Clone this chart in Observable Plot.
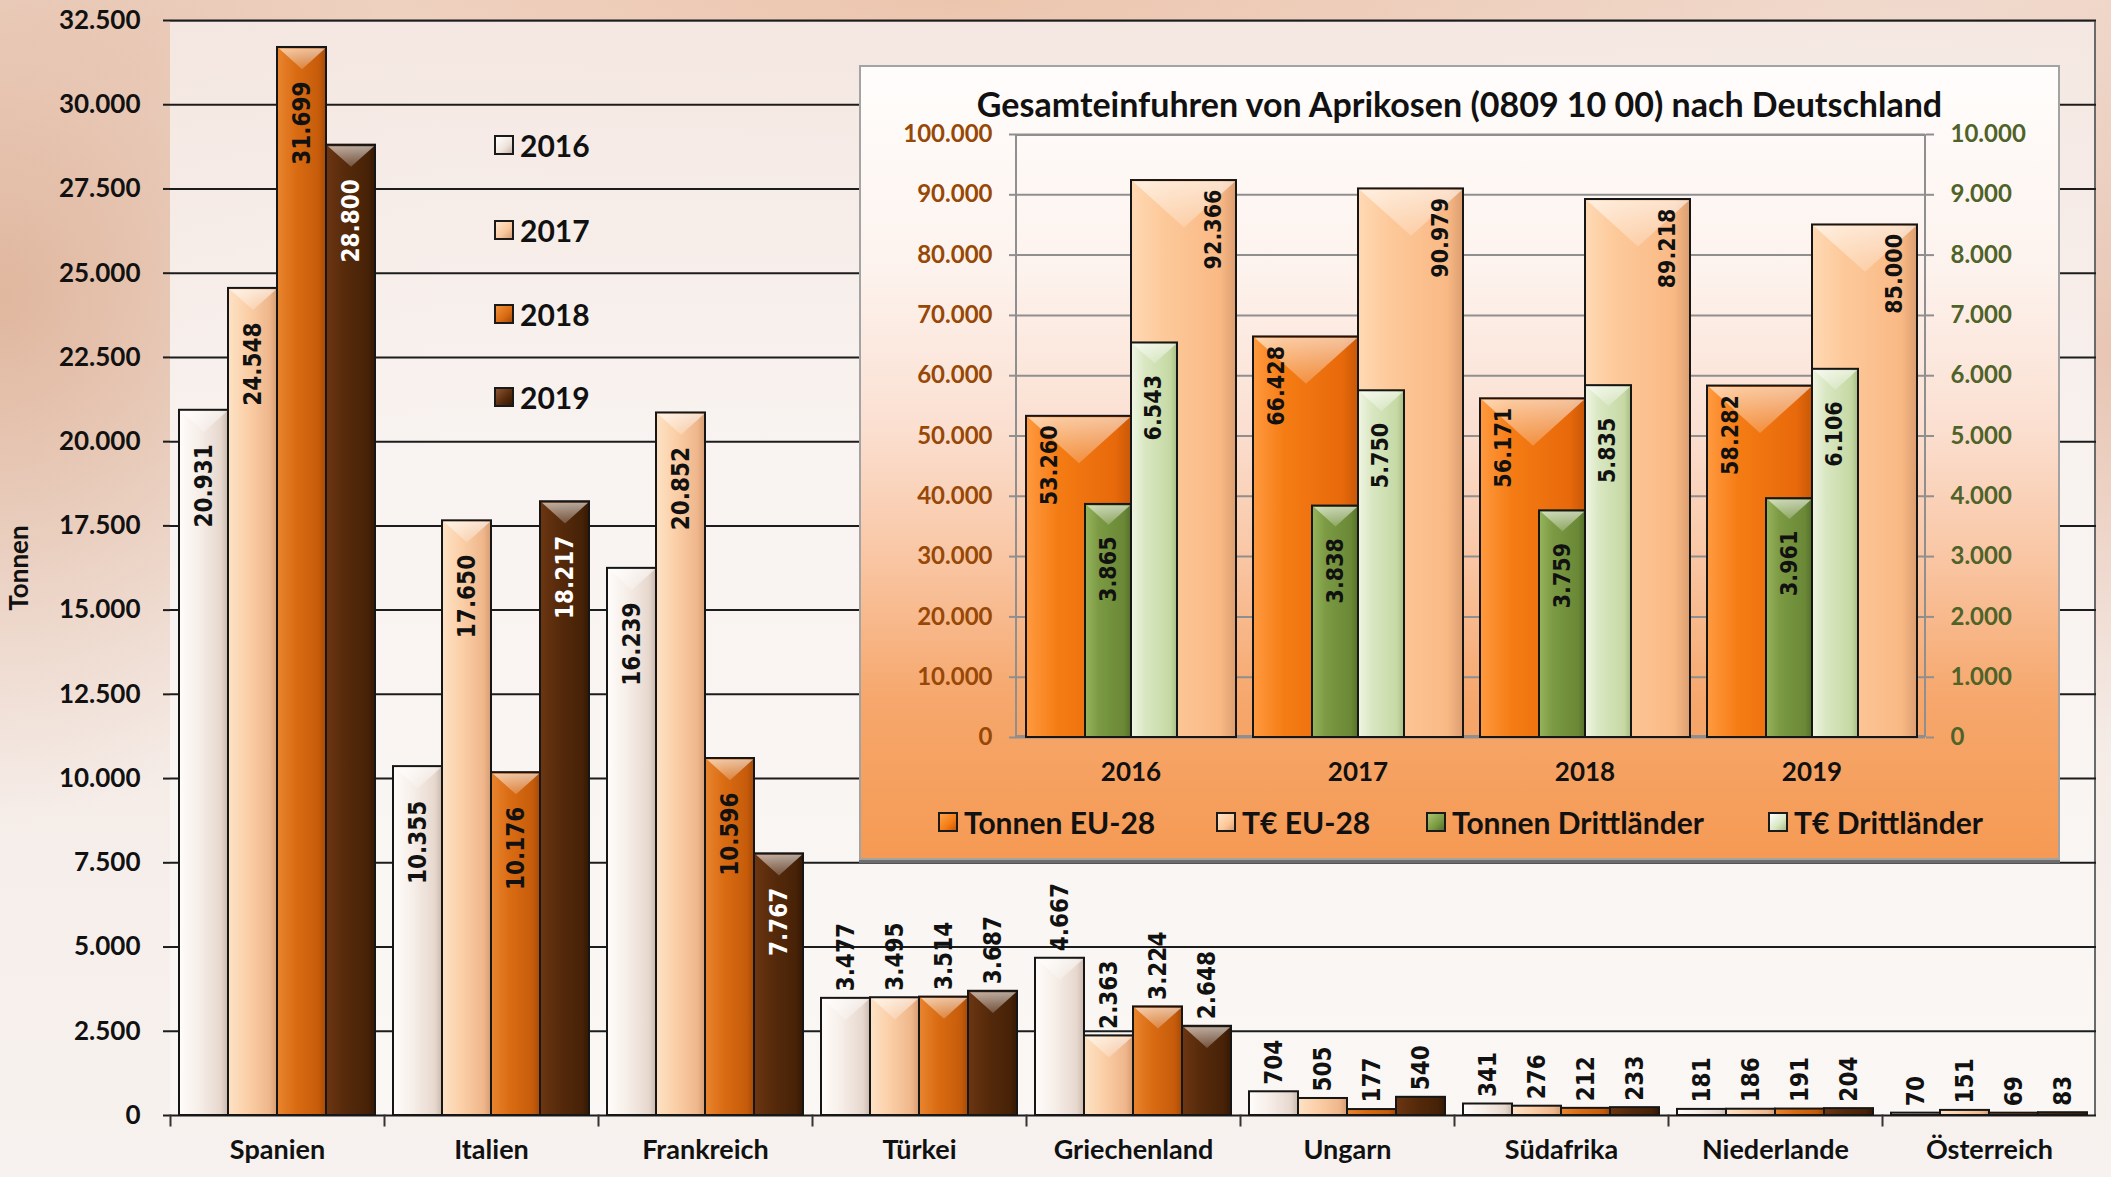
<!DOCTYPE html>
<html>
<head>
<meta charset="utf-8">
<script src="https://cdn.jsdelivr.net/npm/d3@7"></script>
<script src="https://cdn.jsdelivr.net/npm/@observablehq/plot@0.6"></script>
<style>
html,body{margin:0;padding:0}
body{width:2111px;height:1177px;position:relative;overflow:hidden;
  font-family:Lato,"Open Sans",sans-serif;font-weight:bold;color:#111;
  background:
    radial-gradient(ellipse 620px 700px at 0% 25%, rgba(222,178,152,0.9), rgba(222,178,152,0) 75%),
    radial-gradient(ellipse 1200px 260px at 45% 0%, rgba(236,196,172,0.95), rgba(236,196,172,0) 80%),
    radial-gradient(ellipse 400px 500px at 100% 30%, rgba(230,190,170,0.8), rgba(230,190,170,0) 80%),
    linear-gradient(to bottom, #f0d9cc 0%, #f5ebe6 55%, #f7f2ef 100%);}
#plotbg{position:absolute;left:170px;top:20px;width:1926px;height:1095px;box-sizing:border-box;
  background:linear-gradient(to bottom, rgba(245,233,228,0.92), rgba(249,244,242,0.95) 40%, rgba(250,247,245,0.95));
  border-top:2px solid #9a9a9a;border-right:2px solid #6a6a6a;}
#main{position:absolute;left:0;top:0}
.lg{position:absolute;display:flex;align-items:center;white-space:nowrap}
.sw{width:16px;height:16px;border:2px solid #1a1a1a;margin-right:6px;flex:none}
#legend .lg{left:494px;font-size:30px;height:40px}
#inset{position:absolute;left:859px;top:65px;width:1201px;height:795px;box-sizing:border-box;
  border:2px solid #a3a3a3;box-shadow:0 3px 0 #6d6d6d;
  background:linear-gradient(to bottom,#fffdfc 0%,#fdf3ee 25%,#fbe0d2 45%,#f9c6a4 62%,#f6a76c 80%,#f59a54 100%);}
#ititle{position:absolute;left:0;top:17px;width:100%;text-align:center;font-size:34px;line-height:40px}
#iframe{position:absolute;left:154px;top:67px;width:911px;height:603px;box-sizing:border-box;border:2px solid #8f8f8f}
#isvg{position:absolute;left:0;top:51px}
#ilegend .lg{top:735px;font-size:30px;height:40px}
</style>
</head>
<body>
<svg width="0" height="0" style="position:absolute">
  <defs>
    <linearGradient id="gm2016" x1="0" y1="0" x2="1" y2="0">
      <stop offset="0" stop-color="#fffdfb"/><stop offset="0.45" stop-color="#f5ece6"/>
      <stop offset="0.85" stop-color="#e7d8ce"/><stop offset="1" stop-color="#cbb9ad"/>
    </linearGradient>
    <linearGradient id="gm2017" x1="0" y1="0" x2="1" y2="0">
      <stop offset="0" stop-color="#fde2c6"/><stop offset="0.4" stop-color="#fbcfa7"/>
      <stop offset="0.85" stop-color="#efb68b"/><stop offset="1" stop-color="#d69c72"/>
    </linearGradient>
    <linearGradient id="gm2018" x1="0" y1="0" x2="1" y2="0">
      <stop offset="0" stop-color="#e9852f"/><stop offset="0.4" stop-color="#d96b12"/>
      <stop offset="0.85" stop-color="#c65c0b"/><stop offset="1" stop-color="#a54a07"/>
    </linearGradient>
    <linearGradient id="gm2019" x1="0" y1="0" x2="1" y2="0">
      <stop offset="0" stop-color="#6c3612"/><stop offset="0.4" stop-color="#562a0b"/>
      <stop offset="0.85" stop-color="#472207"/><stop offset="1" stop-color="#351804"/>
    </linearGradient>
    <linearGradient id="giTEU" x1="0" y1="0" x2="1" y2="0">
      <stop offset="0" stop-color="#ff9a40"/><stop offset="0.3" stop-color="#f57c14"/>
      <stop offset="0.85" stop-color="#e8690a"/><stop offset="1" stop-color="#c85808"/>
    </linearGradient>
    <linearGradient id="giEEU" x1="0" y1="0" x2="1" y2="0">
      <stop offset="0" stop-color="#ffd9b4"/><stop offset="0.3" stop-color="#fdc99a"/>
      <stop offset="0.85" stop-color="#f9b985"/><stop offset="1" stop-color="#dc9e70"/>
    </linearGradient>
    <linearGradient id="giTD" x1="0" y1="0" x2="1" y2="0">
      <stop offset="0" stop-color="#96b45c"/><stop offset="0.3" stop-color="#7b9a43"/>
      <stop offset="0.85" stop-color="#6a8836"/><stop offset="1" stop-color="#54702a"/>
    </linearGradient>
    <linearGradient id="giED" x1="0" y1="0" x2="1" y2="0">
      <stop offset="0" stop-color="#f0f6e4"/><stop offset="0.3" stop-color="#d9e7c2"/>
      <stop offset="0.85" stop-color="#c6d9a4"/><stop offset="1" stop-color="#a8be86"/>
    </linearGradient>
    <linearGradient id="bevel" x1="0" y1="0" x2="0" y2="1">
      <stop offset="0" stop-color="#fff" stop-opacity="0.6"/><stop offset="1" stop-color="#fff" stop-opacity="0.2"/>
    </linearGradient>
  </defs>
</svg>
<div id="plotbg"></div>
<div id="main"></div>
<div id="legend"></div>
<div id="inset">
  <div id="ititle"></div>
  <div id="iframe"></div>
  <div id="isvg"></div>
  <div id="ilegend"></div>
</div>
<script>
// ---------- main chart data ----------
const countries = ["Spanien","Italien","Frankreich","Türkei","Griechenland","Ungarn","Südafrika","Niederlande","Österreich"];
const years = ["2016","2017","2018","2019"];
const v2016 = [20931,10355,16239,3477,4667,704,341,181,70];
const v2017 = [24548,17650,20852,3495,2363,505,276,186,151];
const v2018 = [31699,10176,10596,3514,3224,177,212,191,69];
const v2019 = [28800,18217,7767,3687,2648,540,233,204,83];
const yTicks = [0,2500,5000,7500,10000,12500,15000,17500,20000,22500,25000,27500,30000,32500];
const yLabel = "Tonnen";

// ---------- inset chart data ----------
const insetTitle = "Gesamteinfuhren von Aprikosen (0809 10 00) nach Deutschland";
const insetYears = ["2016","2017","2018","2019"];
const tonnenEU = [53260,66428,56171,58282];
const euroEU = [92366,90979,89218,85000];
const tonnenDritt = [3865,3838,3759,3961];
const euroDritt = [6543,5750,5835,6106];
const leftTicks = [0,10000,20000,30000,40000,50000,60000,70000,80000,90000,100000];
const insetSeries = ["Tonnen EU-28","T€ EU-28","Tonnen Drittländer","T€ Drittländer"];

const fmt = d3.formatLocale({decimal:",", thousands:".", grouping:[3], currency:["","€"]}).format(",d");
const valueFont = {fontFamily:"'Liberation Sans Narrow','DejaVu Sans Condensed','Roboto',sans-serif", fontSize:24, fontWeight:"bold"};

// downward bevel triangle hanging from the top edge of a bar (width = sqrt(size))
const bevelTop = {draw(ctx, size) {
  const w = Math.sqrt(size);
  ctx.moveTo(-w / 2, 0); ctx.lineTo(w / 2, 0); ctx.lineTo(0, 0.45 * w); ctx.closePath();
}};
const R = w => w / Math.sqrt(Math.PI); // dot radius giving a triangle of width w

// ---------- main chart ----------
const seriesByYear = [v2016, v2017, v2018, v2019];
const rows = countries.flatMap((c, i) => years.map((y, j) => ({country: c, year: y, value: seriesByYear[j][i]})));
const inside = rows.filter(d => d.value > 5000);
const outside = rows.filter(d => d.value <= 5000);

const main = Plot.plot({
  width: 2111, height: 1177,
  marginLeft: 170, marginRight: 15, marginTop: 20, marginBottom: 62,
  style: {background:"transparent", overflow:"visible", fontFamily:"Lato,'Open Sans',sans-serif", fontWeight:"bold", fontSize:"26px", color:"#111"},
  fx: {domain: countries, padding: 0, label: null},
  x: {domain: years, paddingInner: 0, paddingOuter: 0.17, axis: null},
  y: {domain: [0, 32500]},
  color: {domain: years, range: years.map(y => `url(#gm${y})`)},
  marks: [
    Plot.gridY(yTicks, {stroke:"#1c1c1c", strokeOpacity:1, strokeWidth:2}),
    Plot.axisY(yTicks, {tickFormat: fmt, tickSize: 7, tickPadding: 23, stroke:"#1c1c1c", strokeWidth: 2,
      label: yLabel, labelAnchor: "center", labelOffset: 161, labelArrow: "none", fontSize: 26}),
    Plot.axisFx({anchor: "bottom", tickSize: 0, tickPadding: 24, label: null, fontSize: 27}),
    Plot.frame({anchor: "left", insetTop: 1095, insetBottom: -10, stroke: "#333", strokeWidth: 2}),
    Plot.barY(rows, {fx:"country", x:"year", y:"value", fill:"year", stroke:"#161616", strokeWidth:2}),
    Plot.dot(rows.filter(d => d.value > 1000), {fx:"country", x:"year", y:"value", symbol: bevelTop, r: R(46),
      fill:"url(#bevel)", stroke:"none", dy: 1}),
    Plot.text(inside.filter(d => d.year !== "2019"), {fx:"country", x:"year", y:"value", text: d => fmt(d.value),
      rotate:-90, textAnchor:"end", dy:34, fill:"#111", ...valueFont}),
    Plot.text(inside.filter(d => d.year === "2019"), {fx:"country", x:"year", y:"value", text: d => fmt(d.value),
      rotate:-90, textAnchor:"end", dy:34, fill:"#fff", ...valueFont}),
    Plot.text(outside, {fx:"country", x:"year", y:"value", text: d => fmt(d.value),
      rotate:-90, textAnchor:"start", dy:-7, fill:"#111", ...valueFont})
  ]
});
document.getElementById("main").append(main);

// main legend
const swatchCss = {
  "2016":"linear-gradient(135deg,#ffffff,#efe4dc 60%,#c9b6aa)",
  "2017":"linear-gradient(135deg,#fde6cc,#f9c79c 60%,#d69c72)",
  "2018":"linear-gradient(135deg,#f0923a,#d96b12 60%,#a54a07)",
  "2019":"linear-gradient(135deg,#8a5633,#562a0b 60%,#351804)",
  "Tonnen EU-28":"linear-gradient(135deg,#ffa24c,#f57c14 60%,#c85808)",
  "T€ EU-28":"linear-gradient(135deg,#ffe4c6,#fdc99a 60%,#dc9e70)",
  "Tonnen Drittländer":"linear-gradient(135deg,#a9c46e,#7b9a43 60%,#54702a)",
  "T€ Drittländer":"linear-gradient(135deg,#ffffff,#d9e7c2 60%,#a8be86)"
};
const legendTops = [125, 210, 294, 377];
const lg = document.getElementById("legend");
years.forEach((y, i) => {
  const it = document.createElement("div");
  it.className = "lg"; it.style.top = legendTops[i] + "px";
  it.innerHTML = `<span class="sw" style="background:${swatchCss[y]}"></span><span>${y}</span>`;
  lg.append(it);
});

// ---------- inset chart ----------
document.getElementById("ititle").textContent = insetTitle;
const slots = ["Tonnen EU-28","T€ EU-28"];
const euT = insetYears.map((yr, i) => ({year: yr, slot: slots[0], value: tonnenEU[i]}));
const euE = insetYears.map((yr, i) => ({year: yr, slot: slots[1], value: euroEU[i]}));
const drT = insetYears.map((yr, i) => ({year: yr, slot: slots[0], value: tonnenDritt[i]}));
const drE = insetYears.map((yr, i) => ({year: yr, slot: slots[1], value: euroDritt[i]}));
const sec = d => d.value * 10; // secondary axis: 0–10.000 drawn on 0–100.000

const inset = Plot.plot({
  width: 1197, height: 677,
  marginLeft: 154, marginRight: 132, marginTop: 16, marginBottom: 58,
  style: {background:"transparent", overflow:"visible", fontFamily:"Lato,'Open Sans',sans-serif", fontWeight:"bold", fontSize:"24px", color:"#111"},
  fx: {domain: insetYears, padding: 0, label: null},
  x: {domain: slots, paddingInner: 0, paddingOuter: 0.08, axis: null},
  y: {domain: [0, 100000]},
  marks: [
    Plot.gridY(leftTicks, {stroke:"#8f8f8f", strokeOpacity:1, strokeWidth:2}),
    Plot.axisY(leftTicks, {anchor:"left", tickFormat: fmt, tickSize: 8, tickPadding: 17, stroke:"#8f8f8f", strokeWidth:2, fill:"#974806", label:null, fontSize:24}),
    Plot.axisY(leftTicks, {anchor:"right", tickFormat: d => fmt(d / 10), tickSize: 8, tickPadding: 17, stroke:"#8f8f8f", strokeWidth:2, fill:"#4f6228", label:null, fontSize:24}),
    Plot.axisFx({anchor: "bottom", tickSize: 0, tickPadding: 25, label: null, fontSize: 26}),
    Plot.barY(euT, {fx:"year", x:"slot", y:"value", fill:"url(#giTEU)", stroke:"#161616", strokeWidth:2}),
    Plot.barY(euE, {fx:"year", x:"slot", y:"value", fill:"url(#giEEU)", stroke:"#161616", strokeWidth:2}),
    Plot.dot([...euT, ...euE], {fx:"year", x:"slot", y:"value", symbol: bevelTop, r: R(102), fill:"url(#bevel)", stroke:"none", dy: 1}),
    Plot.barY(drT, {fx:"year", x:"slot", y:sec, fill:"url(#giTD)", stroke:"#161616", strokeWidth:2, insetLeft:59}),
    Plot.barY(drE, {fx:"year", x:"slot", y:sec, fill:"url(#giED)", stroke:"#161616", strokeWidth:2, insetRight:59}),
    Plot.dot(drT, {fx:"year", x:"slot", y:sec, symbol: bevelTop, r: R(43), fill:"url(#bevel)", stroke:"none", dx: 29.5, dy: 1}),
    Plot.dot(drE, {fx:"year", x:"slot", y:sec, symbol: bevelTop, r: R(43), fill:"url(#bevel)", stroke:"none", dx: -29.5, dy: 1}),
    Plot.text(euT, {fx:"year", x:"slot", y:"value", text: d => fmt(d.value), rotate:-90, textAnchor:"end", dx:-29, dy:9, fill:"#111", ...valueFont, fontSize:23}),
    Plot.text(euE, {fx:"year", x:"slot", y:"value", text: d => fmt(d.value), rotate:-90, textAnchor:"end", dx:30, dy:9, fill:"#111", ...valueFont, fontSize:23}),
    Plot.text(drT, {fx:"year", x:"slot", y:sec, text: d => fmt(d.value), rotate:-90, textAnchor:"end", dx:30, dy:32, fill:"#111", ...valueFont, fontSize:23}),
    Plot.text(drE, {fx:"year", x:"slot", y:sec, text: d => fmt(d.value), rotate:-90, textAnchor:"end", dx:-30, dy:32, fill:"#111", ...valueFont, fontSize:23})
  ]
});
document.getElementById("isvg").append(inset);

const ilg = document.getElementById("ilegend");
const iLefts = [77, 355, 565, 907];
insetSeries.forEach((s, i) => {
  const it = document.createElement("div");
  it.className = "lg"; it.style.left = iLefts[i] + "px";
  it.innerHTML = `<span class="sw" style="background:${swatchCss[s]}"></span><span>${s}</span>`;
  ilg.append(it);
});
</script>
</body>
</html>
